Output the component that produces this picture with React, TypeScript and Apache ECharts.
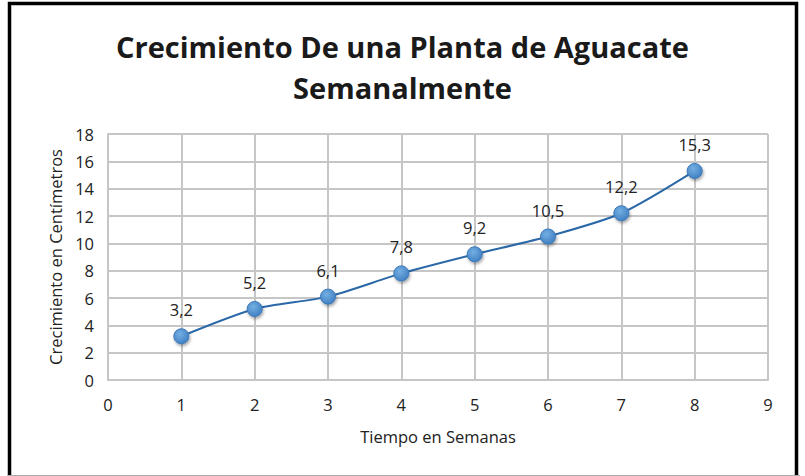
import React, { useEffect, useRef } from "react";
import * as echarts from "echarts";

const weeks = [1, 2, 3, 4, 5, 6, 7, 8];
const growth = [3.2, 5.2, 6.1, 7.8, 9.2, 10.5, 12.2, 15.3];
const titleText = "Crecimiento De una Planta de Aguacate\nSemanalmente";
const xName = "Tiempo en Semanas";
const yName = "Crecimiento en Centímetros";

export default function App() {
  const ref = useRef<HTMLDivElement>(null);
  useEffect(() => {
    if (!ref.current) return;
    const chart = echarts.init(ref.current, null, { renderer: "svg" });
    const font = "'Open Sans', sans-serif";
    chart.setOption({
      animation: false,
      backgroundColor: "#ffffff",
      title: {
        text: titleText,
        left: "center",
        top: 21,
        textStyle: {
          fontFamily: font,
          fontSize: 29,
          fontWeight: "bold",
          color: "#1a1a1a",
          lineHeight: 41,
        },
      },
      grid: { left: 108, right: 37, top: 134, bottom: 96 },
      xAxis: {
        type: "value",
        min: 0,
        max: 9,
        interval: 1,
        name: xName,
        nameLocation: "middle",
        nameGap: 48,
        nameTextStyle: { fontFamily: font, fontSize: 16.5, color: "#222" },
        axisLine: { show: true, lineStyle: { color: "#c6c6c6", width: 2 } },
        axisTick: { show: false },
        axisLabel: { margin: 16, fontFamily: font, fontSize: 16.5, color: "#222" },
        splitLine: { show: true, lineStyle: { color: "#c6c6c6", width: 2 } },
      },
      yAxis: {
        type: "value",
        min: 0,
        max: 18,
        interval: 2,
        name: yName,
        nameLocation: "middle",
        nameGap: 42,
        nameTextStyle: { fontFamily: font, fontSize: 16.5, color: "#222" },
        axisLine: { show: true, lineStyle: { color: "#c6c6c6", width: 2 } },
        axisTick: { show: false },
        axisLabel: { margin: 14, fontFamily: font, fontSize: 16.5, color: "#222" },
        splitLine: { show: true, lineStyle: { color: "#c6c6c6", width: 2 } },
      },
      graphic: [
        {
          type: "rect",
          shape: { x: 9.5, y: 3.5, width: 787, height: 490 },
          style: { fill: "none", stroke: "#000", lineWidth: 3.5 },
          z: 100,
        },
        {
          type: "line",
          shape: { x1: 11.5, y1: 5, x2: 11.5, y2: 476 },
          style: { stroke: "#bbbbbb", lineWidth: 1 },
          z: 100,
        },
        {
          type: "line",
          shape: { x1: 8, y1: 475.5, x2: 800, y2: 475.5 },
          style: { stroke: "#aaaaaa", lineWidth: 1 },
          z: 100,
        },
      ],
      series: [
        {
          type: "line",
          data: weeks.map((w, i) => [w, growth[i]]),
          smooth: 0.25,
          symbol: "circle",
          symbolSize: 15,
          lineStyle: { color: "#2a68a8", width: 2 },
          itemStyle: {
            color: new echarts.graphic.RadialGradient(0.4, 0.35, 0.7, [
              { offset: 0, color: "#74aee2" },
              { offset: 1, color: "#3f7fc2" },
            ]),
            borderColor: "#3a78b8",
            borderWidth: 1,
            shadowColor: "rgba(0,0,0,0.35)",
            shadowBlur: 3,
            shadowOffsetX: 1,
            shadowOffsetY: 2,
          },
          label: {
            show: true,
            position: "top",
            distance: 10,
            fontFamily: font,
            fontSize: 16.5,
            color: "#222",
            formatter: (p: any) => String(p.value[1]).replace(".", ","),
          },
        },
      ],
    });
    return () => chart.dispose();
  }, []);
  return (
    <div
      ref={ref}
      style={{ position: "absolute", left: 0, top: 0, width: 805, height: 476 }}
    />
  );
}
